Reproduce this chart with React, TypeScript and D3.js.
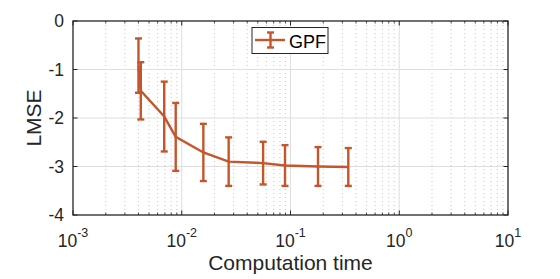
import React from "react";
import * as d3 from "d3";

// computation time (log x) vs LMSE, GPF series with symmetric error bars
const times = [0.0040, 0.0042, 0.0069, 0.0088, 0.0158, 0.027, 0.056, 0.089, 0.179, 0.340];
const lmse = [-0.92, -1.44, -1.97, -2.39, -2.71, -2.90, -2.93, -2.98, -3.00, -3.01];
const errs = [0.56, 0.59, 0.72, 0.70, 0.59, 0.50, 0.44, 0.42, 0.40, 0.39];
const yTicks = [0, -1, -2, -3, -4];
const xDecades = [-3, -2, -1, 0, 1];
const seriesName = "GPF";

const W = 560;
const H = 279;
const margin = { top: 21, right: 52, bottom: 64, left: 73 };
const color = "#C5552A";
const ink = "#262626";
const font = "'Liberation Sans', Arial, Helvetica, sans-serif";

const App = () => {
  const x = d3
    .scaleLog()
    .domain([1e-3, 1e1])
    .range([margin.left, W - margin.right]);
  const y = d3
    .scaleLinear()
    .domain([-4, 0])
    .range([H - margin.bottom, margin.top]);

  const [x0, x1] = x.range();
  const [y0, y1] = y.range();

  const minors: number[] = [];
  xDecades.slice(0, -1).forEach((d) => {
    for (let k = 2; k <= 9; k++) minors.push(k * Math.pow(10, d));
  });

  const line = d3
    .line<number>()
    .x((_, i) => x(times[i]))
    .y((d) => y(d));

  const cap = 3.5;

  return (
    <svg
      width={W}
      height={H}
      style={{ position: "absolute", left: 0, top: 0, background: "#fff" }}
      fontFamily={font}
    >
      {/* minor dotted grid */}
      {minors.map((m) => (
        <line
          key={"mg" + m}
          x1={x(m)}
          x2={x(m)}
          y1={y1}
          y2={y0}
          stroke="#b8b8b8"
          strokeWidth={0.8}
          strokeDasharray="1,3"
        />
      ))}
      {/* major grid */}
      {xDecades.slice(1, -1).map((d) => (
        <line
          key={"xg" + d}
          x1={x(Math.pow(10, d))}
          x2={x(Math.pow(10, d))}
          y1={y1}
          y2={y0}
          stroke="#dedede"
          strokeWidth={1}
        />
      ))}
      {yTicks.slice(1, -1).map((t) => (
        <line
          key={"yg" + t}
          x1={x0}
          x2={x1}
          y1={y(t)}
          y2={y(t)}
          stroke="#dedede"
          strokeWidth={1}
        />
      ))}

      {/* series */}
      <path d={line(lmse) || ""} fill="none" stroke={color} strokeWidth={2.4} />
      {lmse.map((v, i) => {
        const cx = x(times[i]);
        const top = y(v + errs[i]);
        const bot = y(v - errs[i]);
        return (
          <g key={"eb" + i} stroke={color} strokeWidth={2.4}>
            <line x1={cx} x2={cx} y1={top} y2={bot} />
            <line x1={cx - cap} x2={cx + cap} y1={top} y2={top} />
            <line x1={cx - cap} x2={cx + cap} y1={bot} y2={bot} />
          </g>
        );
      })}

      {/* ticks */}
      {minors.map((m) => (
        <g key={"mt" + m} stroke={ink} strokeWidth={0.8}>
          <line x1={x(m)} x2={x(m)} y1={y0} y2={y0 - 2.5} />
          <line x1={x(m)} x2={x(m)} y1={y1} y2={y1 + 2.5} />
        </g>
      ))}
      {xDecades.map((d) => (
        <g key={"xt" + d} stroke={ink} strokeWidth={1}>
          <line x1={x(Math.pow(10, d))} x2={x(Math.pow(10, d))} y1={y0} y2={y0 - 4.5} />
          <line x1={x(Math.pow(10, d))} x2={x(Math.pow(10, d))} y1={y1} y2={y1 + 4.5} />
        </g>
      ))}
      {yTicks.map((t) => (
        <g key={"yt" + t} stroke={ink} strokeWidth={1}>
          <line x1={x0} x2={x0 + 4.5} y1={y(t)} y2={y(t)} />
          <line x1={x1} x2={x1 - 4.5} y1={y(t)} y2={y(t)} />
        </g>
      ))}

      {/* box */}
      <rect
        x={x0}
        y={y1}
        width={x1 - x0}
        height={y0 - y1}
        fill="none"
        stroke={ink}
        strokeWidth={1.3}
      />

      {/* tick labels */}
      {yTicks.map((t) => (
        <text
          key={"yl" + t}
          x={x0 - 9}
          y={y(t)}
          dy="0.36em"
          textAnchor="end"
          fontSize={17.5}
          fill={ink}
        >
          {t}
        </text>
      ))}
      {xDecades.map((d) => (
        <text
          key={"xl" + d}
          x={x(Math.pow(10, d))}
          y={246.5}
          textAnchor="middle"
          fontSize={17.5}
          fill={ink}
        >
          10
          <tspan fontSize={12.5} dy={-9.5}>
            {d}
          </tspan>
        </text>
      ))}

      {/* axis labels */}
      <text
        x={(x0 + x1) / 2}
        y={269.5}
        textAnchor="middle"
        fontSize={21}
        fill={ink}
      >
        Computation time
      </text>
      <text
        transform={`translate(40.5, ${(y0 + y1) / 2}) rotate(-90)`}
        textAnchor="middle"
        fontSize={21}
        fill={ink}
      >
        LMSE
      </text>

      {/* legend */}
      <g>
        <rect x={252} y={27.5} width={76} height={26} fill="#fff" stroke={ink} strokeWidth={1} />
        <g stroke={color} strokeWidth={2.4}>
          <line x1={255} x2={285} y1={40} y2={40} />
          <line x1={270.5} x2={270.5} y1={32.5} y2={47.5} />
          <line x1={267} x2={274} y1={32.5} y2={32.5} />
          <line x1={267} x2={274} y1={47.5} y2={47.5} />
        </g>
        <text x={289} y={47.5} fontSize={18} fill="#000">
          {seriesName}
        </text>
      </g>
    </svg>
  );
};

export default App;
